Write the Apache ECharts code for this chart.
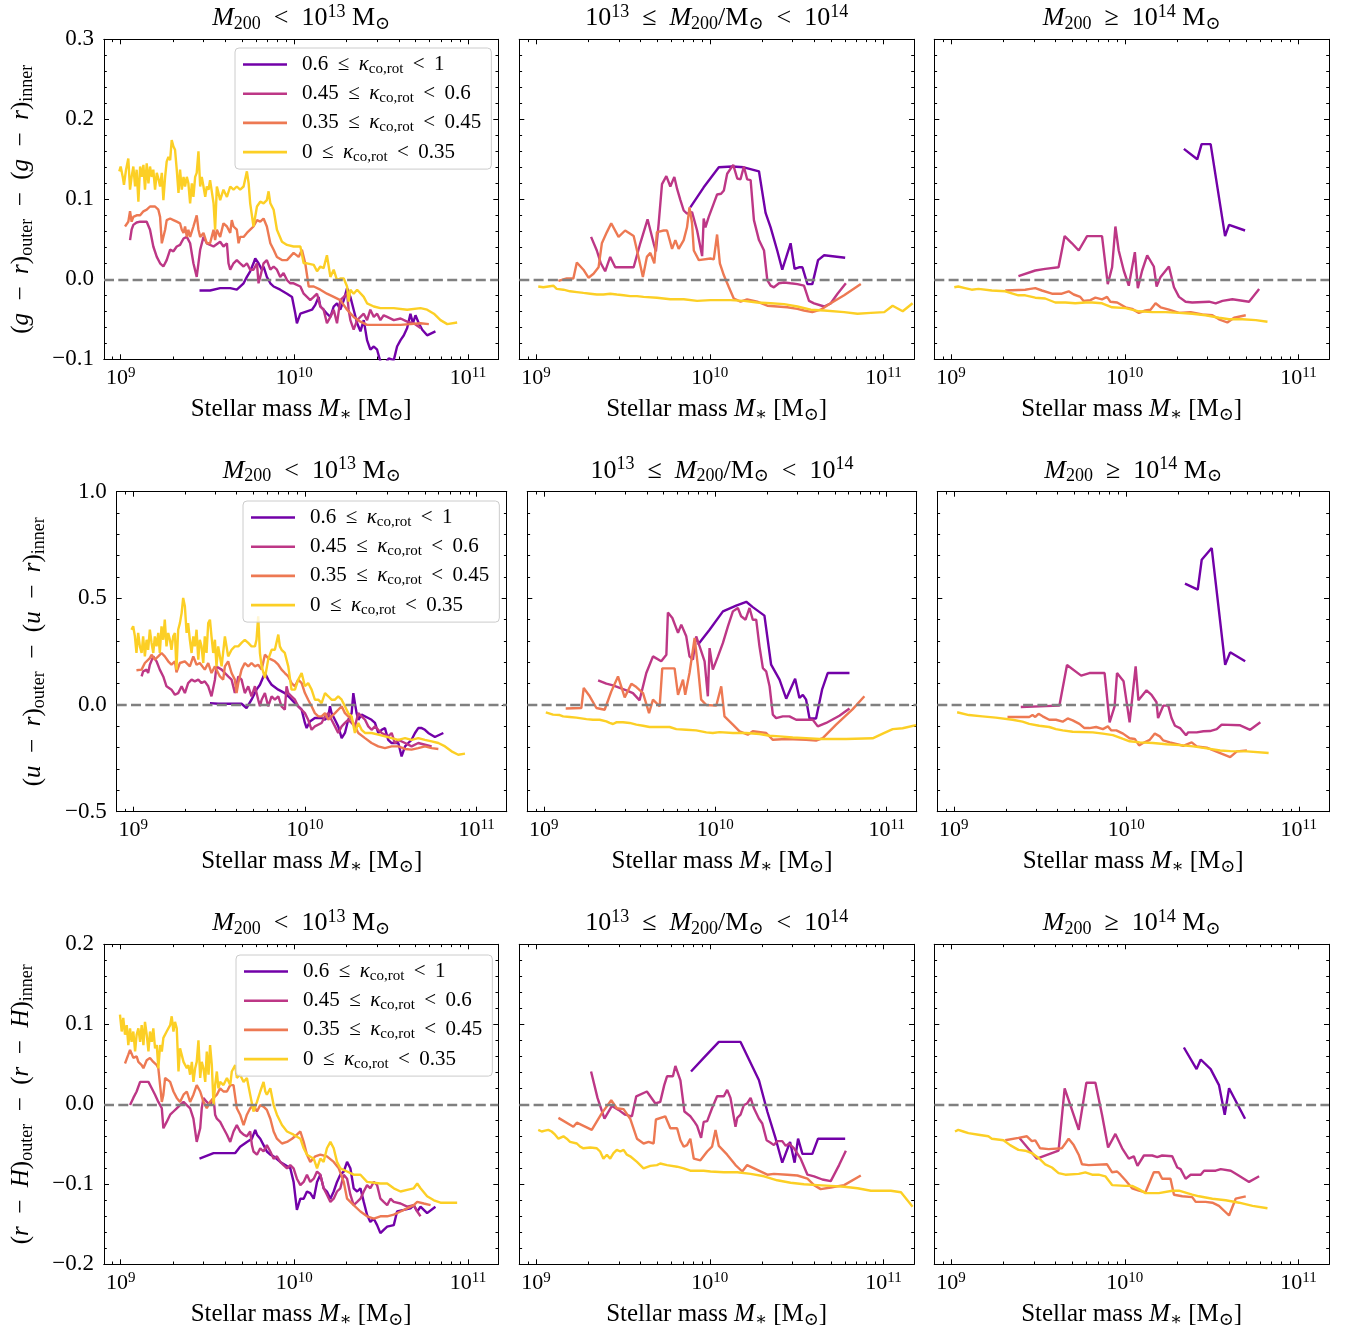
<!DOCTYPE html>
<html><head><meta charset="utf-8">
<script src="https://cdn.jsdelivr.net/npm/echarts@6/dist/echarts.min.js"></script>
<style>html,body{margin:0;padding:0;background:#fff}#c{width:1355px;height:1334px}</style>
</head><body><div id="c"></div><script>
// ---------- DATA: [log10(M*/Msun), colour-gradient difference] ----------
// Row 1: (g-r)
const gr_low_k60 = [[9.454,-0.014],[9.515,-0.014],[9.573,-0.011],[9.631,-0.011],[9.669,-0.013],[9.708,-0.005],[9.727,0.003],[9.746,0.010],[9.765,0.020],[9.775,0.026],[9.794,0.020],[9.813,0.012],[9.823,0.016],[9.842,0.003],[9.862,-0.005],[9.881,-0.009],[9.919,-0.013],[9.958,-0.018],[9.987,-0.022],[10.006,-0.043],[10.015,-0.055],[10.035,-0.043],[10.073,-0.040],[10.102,-0.038],[10.121,-0.032],[10.140,-0.022],[10.150,-0.034],[10.169,-0.038],[10.188,-0.043],[10.208,-0.047],[10.227,-0.034],[10.246,-0.030],[10.265,-0.038],[10.285,-0.026],[10.304,-0.011],[10.323,-0.022],[10.342,-0.038],[10.362,-0.055],[10.381,-0.065],[10.400,-0.051],[10.419,-0.076],[10.438,-0.088],[10.458,-0.084],[10.477,-0.088],[10.496,-0.103],[10.525,-0.105],[10.544,-0.099],[10.573,-0.101],[10.592,-0.084],[10.612,-0.076],[10.631,-0.070],[10.650,-0.061],[10.669,-0.043],[10.683,-0.055],[10.698,-0.045],[10.717,-0.055],[10.737,-0.063],[10.765,-0.070],[10.813,-0.065]];
const gr_low_k45 = [[9.054,0.049],[9.063,0.062],[9.073,0.068],[9.092,0.071],[9.112,0.072],[9.150,0.072],[9.169,0.062],[9.188,0.041],[9.208,0.028],[9.227,0.020],[9.246,0.016],[9.256,0.014],[9.265,0.024],[9.285,0.037],[9.304,0.035],[9.323,0.041],[9.342,0.043],[9.362,0.051],[9.381,0.053],[9.400,0.045],[9.419,0.020],[9.438,0.003],[9.458,0.037],[9.477,0.053],[9.496,0.045],[9.535,0.041],[9.573,0.047],[9.592,0.041],[9.612,0.045],[9.621,0.020],[9.631,0.012],[9.650,0.020],[9.669,0.024],[9.688,0.020],[9.708,0.016],[9.727,0.020],[9.746,0.012],[9.765,0.012],[9.785,0.020],[9.794,-0.005],[9.804,0.003],[9.823,0.020],[9.842,0.024],[9.862,0.012],[9.881,0.016],[9.900,0.012],[9.919,0.003],[9.938,0.008],[9.958,-0.001],[9.977,-0.005],[9.996,-0.005],[10.035,-0.009],[10.054,-0.018],[10.073,-0.022],[10.092,-0.026],[10.112,-0.022],[10.131,-0.018],[10.150,-0.034],[10.169,-0.038],[10.188,-0.055],[10.208,-0.047],[10.227,-0.038],[10.246,-0.055],[10.265,-0.026],[10.285,-0.022],[10.304,-0.018],[10.313,-0.038],[10.323,-0.051],[10.342,-0.063],[10.362,-0.051],[10.381,-0.047],[10.400,-0.043],[10.419,-0.051],[10.438,-0.038],[10.458,-0.047],[10.477,-0.043],[10.496,-0.051],[10.515,-0.045],[10.535,-0.047],[10.573,-0.051],[10.612,-0.049],[10.650,-0.053],[10.688,-0.055],[10.727,-0.061]];
const gr_low_k35 = [[9.025,0.066],[9.044,0.072],[9.054,0.085],[9.063,0.072],[9.073,0.078],[9.092,0.080],[9.112,0.080],[9.131,0.085],[9.150,0.087],[9.169,0.091],[9.198,0.091],[9.217,0.087],[9.227,0.078],[9.237,0.045],[9.246,0.043],[9.256,0.062],[9.265,0.074],[9.285,0.076],[9.304,0.074],[9.323,0.072],[9.342,0.070],[9.352,0.062],[9.362,0.058],[9.371,0.066],[9.381,0.053],[9.390,0.062],[9.400,0.053],[9.419,0.066],[9.438,0.080],[9.448,0.062],[9.458,0.053],[9.477,0.058],[9.496,0.045],[9.515,0.045],[9.535,0.062],[9.544,0.049],[9.554,0.062],[9.573,0.053],[9.592,0.070],[9.612,0.066],[9.631,0.058],[9.640,0.074],[9.650,0.066],[9.669,0.062],[9.679,0.045],[9.688,0.053],[9.708,0.053],[9.727,0.058],[9.746,0.062],[9.765,0.066],[9.785,0.074],[9.804,0.072],[9.823,0.076],[9.842,0.066],[9.862,0.045],[9.881,0.037],[9.900,0.028],[9.929,0.024],[9.958,0.024],[9.996,0.033],[10.025,0.028],[10.044,0.037],[10.063,0.020],[10.083,-0.009],[10.112,-0.009],[10.150,-0.013],[10.188,-0.018],[10.227,-0.022],[10.265,-0.026],[10.304,-0.038],[10.342,-0.047],[10.381,-0.053],[10.419,-0.057],[10.496,-0.057],[10.612,-0.057],[10.727,-0.055],[10.775,-0.056]];
const gr_low_k0 = [[8.992,0.135],[9.000,0.141],[9.012,0.128],[9.019,0.118],[9.031,0.137],[9.044,0.151],[9.054,0.112],[9.063,0.128],[9.073,0.141],[9.083,0.116],[9.092,0.137],[9.102,0.097],[9.112,0.141],[9.121,0.128],[9.131,0.143],[9.140,0.112],[9.150,0.145],[9.160,0.120],[9.169,0.141],[9.179,0.128],[9.188,0.137],[9.198,0.112],[9.208,0.133],[9.217,0.126],[9.227,0.116],[9.237,0.133],[9.246,0.099],[9.256,0.128],[9.265,0.147],[9.275,0.153],[9.285,0.149],[9.294,0.174],[9.304,0.166],[9.313,0.162],[9.323,0.137],[9.333,0.108],[9.342,0.137],[9.352,0.112],[9.362,0.128],[9.371,0.116],[9.381,0.128],[9.390,0.120],[9.400,0.095],[9.410,0.120],[9.419,0.103],[9.429,0.128],[9.438,0.133],[9.448,0.160],[9.458,0.116],[9.467,0.128],[9.477,0.116],[9.487,0.103],[9.496,0.116],[9.506,0.112],[9.515,0.124],[9.535,0.095],[9.544,0.062],[9.554,0.116],[9.563,0.108],[9.573,0.099],[9.592,0.112],[9.612,0.103],[9.631,0.116],[9.650,0.112],[9.669,0.116],[9.688,0.112],[9.708,0.116],[9.727,0.135],[9.737,0.120],[9.746,0.095],[9.765,0.066],[9.785,0.091],[9.804,0.097],[9.823,0.095],[9.842,0.099],[9.852,0.110],[9.862,0.095],[9.881,0.087],[9.900,0.062],[9.929,0.047],[9.958,0.043],[9.996,0.041],[10.035,0.041],[10.054,0.020],[10.073,0.020],[10.112,0.018],[10.131,0.010],[10.150,0.016],[10.169,0.014],[10.188,0.030],[10.208,0.003],[10.227,0.012],[10.246,-0.001],[10.265,0.001],[10.285,0.001],[10.304,-0.009],[10.313,-0.028],[10.323,-0.013],[10.342,-0.018],[10.362,-0.013],[10.400,-0.022],[10.419,-0.030],[10.458,-0.034],[10.496,-0.036],[10.573,-0.036],[10.650,-0.038],[10.727,-0.036],[10.765,-0.038],[10.804,-0.043],[10.842,-0.051],[10.881,-0.056],[10.938,-0.054]];
const gr_mid_k60 = [[9.888,0.090],[9.965,0.115],[10.052,0.140],[10.129,0.141],[10.196,0.140],[10.283,0.135],[10.321,0.083],[10.350,0.065],[10.388,0.036],[10.417,0.012],[10.465,0.045],[10.488,0.013],[10.513,0.015],[10.533,0.015],[10.562,-0.006],[10.590,-0.006],[10.623,0.024],[10.658,0.030],[10.779,0.027]];
const gr_mid_k45 = [[9.317,0.053],[9.350,0.036],[9.373,0.020],[9.398,0.010],[9.427,0.028],[9.456,0.015],[9.504,0.015],[9.562,0.015],[9.600,0.045],[9.642,0.075],[9.677,0.045],[9.690,0.035],[9.706,0.070],[9.725,0.119],[9.750,0.129],[9.773,0.116],[9.796,0.128],[9.812,0.113],[9.831,0.099],[9.850,0.086],[9.869,0.082],[9.898,0.084],[9.927,0.061],[9.956,0.029],[9.965,0.076],[9.975,0.065],[9.994,0.078],[10.023,0.095],[10.042,0.106],[10.065,0.107],[10.081,0.111],[10.100,0.132],[10.135,0.143],[10.158,0.126],[10.177,0.125],[10.196,0.141],[10.215,0.125],[10.235,0.124],[10.254,0.074],[10.283,0.049],[10.312,0.036],[10.331,-0.001],[10.350,-0.008],[10.369,-0.010],[10.398,-0.005],[10.427,-0.004],[10.465,-0.005],[10.504,-0.006],[10.542,-0.008],[10.571,-0.027],[10.600,-0.030],[10.658,-0.034],[10.696,-0.030],[10.735,-0.018],[10.783,-0.005]];
const gr_mid_k35 = [[9.129,-0.002],[9.177,0.001],[9.215,0.001],[9.235,0.021],[9.273,0.012],[9.302,0.002],[9.331,0.007],[9.360,0.015],[9.379,0.045],[9.408,0.059],[9.433,0.070],[9.475,0.053],[9.513,0.061],[9.562,0.054],[9.590,0.028],[9.615,0.003],[9.638,0.028],[9.658,0.033],[9.681,0.020],[9.696,0.059],[9.735,0.061],[9.754,0.061],[9.783,0.038],[9.802,0.049],[9.821,0.038],[9.850,0.049],[9.869,0.065],[9.883,0.090],[9.898,0.070],[9.908,0.036],[9.937,0.024],[10.004,0.026],[10.023,0.025],[10.042,0.056],[10.058,0.020],[10.081,0.005],[10.110,-0.010],[10.138,-0.024],[10.177,-0.028],[10.215,-0.025],[10.273,-0.028],[10.331,-0.033],[10.388,-0.034],[10.446,-0.035],[10.504,-0.037],[10.542,-0.039],[10.590,-0.041],[10.638,-0.038],[10.696,-0.030],[10.773,-0.020],[10.869,-0.006]];
const gr_mid_k0 = [[9.013,-0.009],[9.042,-0.010],[9.071,-0.009],[9.100,-0.008],[9.119,-0.012],[9.158,-0.013],[9.196,-0.015],[9.235,-0.016],[9.273,-0.017],[9.312,-0.018],[9.350,-0.019],[9.388,-0.019],[9.427,-0.018],[9.465,-0.019],[9.504,-0.020],[9.542,-0.021],[9.581,-0.021],[9.619,-0.022],[9.696,-0.023],[9.773,-0.025],[9.850,-0.025],[9.927,-0.027],[10.004,-0.026],[10.119,-0.026],[10.196,-0.027],[10.273,-0.029],[10.350,-0.030],[10.427,-0.031],[10.504,-0.034],[10.581,-0.038],[10.658,-0.039],[10.773,-0.041],[10.850,-0.043],[10.927,-0.042],[11.004,-0.041],[11.052,-0.033],[11.110,-0.040],[11.167,-0.030]];
const gr_high_k60 = [[10.340,0.163],[10.417,0.150],[10.442,0.169],[10.494,0.169],[10.577,0.054],[10.600,0.068],[10.692,0.061]];
const gr_high_k45 = [[9.388,0.004],[9.485,0.011],[9.542,0.013],[9.619,0.015],[9.654,0.054],[9.696,0.045],[9.735,0.036],[9.783,0.054],[9.869,0.054],[9.902,-0.006],[9.927,0.015],[9.946,0.066],[9.965,0.036],[9.994,0.011],[10.023,-0.008],[10.058,0.034],[10.075,-0.011],[10.100,0.011],[10.129,0.030],[10.167,0.016],[10.183,-0.009],[10.206,0.003],[10.254,0.016],[10.283,-0.010],[10.312,-0.022],[10.350,-0.028],[10.388,-0.029],[10.485,-0.028],[10.523,-0.030],[10.562,-0.027],[10.619,-0.025],[10.715,-0.028],[10.773,-0.012]];
const gr_high_k35 = [[9.312,-0.014],[9.427,-0.013],[9.456,-0.012],[9.485,-0.011],[9.523,-0.014],[9.581,-0.018],[9.638,-0.018],[9.677,-0.015],[9.706,-0.019],[9.744,-0.022],[9.763,-0.027],[9.802,-0.026],[9.831,-0.023],[9.869,-0.025],[9.898,-0.022],[9.917,-0.028],[9.956,-0.029],[10.004,-0.035],[10.042,-0.037],[10.081,-0.042],[10.119,-0.039],[10.148,-0.038],[10.177,-0.030],[10.206,-0.035],[10.254,-0.038],[10.312,-0.042],[10.379,-0.041],[10.446,-0.044],[10.504,-0.045],[10.542,-0.050],[10.590,-0.054],[10.629,-0.048],[10.696,-0.045]];
const gr_high_k0 = [[9.019,-0.010],[9.042,-0.009],[9.081,-0.011],[9.119,-0.013],[9.158,-0.012],[9.235,-0.014],[9.312,-0.015],[9.388,-0.020],[9.427,-0.020],[9.485,-0.023],[9.542,-0.024],[9.600,-0.029],[9.658,-0.029],[9.715,-0.030],[9.773,-0.029],[9.812,-0.029],[9.869,-0.030],[9.927,-0.035],[10.004,-0.036],[10.081,-0.040],[10.158,-0.041],[10.235,-0.041],[10.312,-0.042],[10.388,-0.043],[10.465,-0.045],[10.542,-0.048],[10.600,-0.050],[10.677,-0.050],[10.754,-0.051],[10.821,-0.053]];
// Row 2: (u-r)
const ur_low_k60 = [[9.447,0.009],[9.495,0.006],[9.553,0.006],[9.631,0.006],[9.660,-0.014],[9.689,0.025],[9.718,0.072],[9.738,0.095],[9.767,0.150],[9.786,0.119],[9.806,0.095],[9.845,0.072],[9.883,0.056],[9.913,0.033],[9.942,0.009],[9.981,-0.022],[10.000,-0.084],[10.010,-0.108],[10.029,-0.077],[10.058,-0.061],[10.097,-0.061],[10.117,-0.069],[10.136,-0.053],[10.146,-0.006],[10.155,-0.038],[10.175,-0.069],[10.194,-0.100],[10.214,-0.155],[10.233,-0.131],[10.252,-0.069],[10.272,-0.038],[10.282,0.056],[10.291,0.009],[10.301,-0.038],[10.311,-0.069],[10.330,-0.045],[10.369,-0.061],[10.388,-0.069],[10.408,-0.084],[10.427,-0.131],[10.447,-0.116],[10.466,-0.108],[10.485,-0.163],[10.505,-0.178],[10.544,-0.178],[10.563,-0.241],[10.583,-0.194],[10.602,-0.178],[10.621,-0.163],[10.641,-0.131],[10.660,-0.108],[10.680,-0.108],[10.699,-0.116],[10.718,-0.131],[10.757,-0.150],[10.806,-0.131]];
const ur_low_k45 = [[9.049,0.134],[9.058,0.158],[9.078,0.166],[9.087,0.150],[9.097,0.189],[9.117,0.228],[9.136,0.205],[9.155,0.166],[9.175,0.134],[9.194,0.088],[9.223,0.072],[9.243,0.048],[9.262,0.056],[9.282,0.088],[9.301,0.056],[9.320,0.103],[9.340,0.119],[9.359,0.111],[9.379,0.119],[9.398,0.103],[9.417,0.111],[9.437,0.088],[9.456,0.041],[9.476,0.119],[9.485,0.181],[9.495,0.189],[9.515,0.166],[9.534,0.150],[9.553,0.134],[9.573,0.119],[9.592,0.056],[9.612,0.134],[9.631,0.119],[9.650,0.056],[9.670,0.088],[9.689,0.041],[9.709,0.088],[9.728,0.025],[9.738,-0.006],[9.748,0.025],[9.767,0.056],[9.786,-0.006],[9.806,0.041],[9.825,0.025],[9.845,0.041],[9.864,-0.006],[9.883,-0.022],[9.893,0.088],[9.903,0.056],[9.922,0.041],[9.942,0.025],[9.961,-0.006],[9.981,-0.022],[10.000,-0.038],[10.019,-0.069],[10.039,-0.116],[10.058,-0.100],[10.097,-0.084],[10.117,-0.053],[10.136,-0.038],[10.155,-0.069],[10.175,-0.100],[10.194,-0.131],[10.214,-0.100],[10.233,-0.084],[10.252,-0.069],[10.272,-0.084],[10.291,-0.100],[10.311,-0.038],[10.330,-0.053],[10.350,-0.069],[10.369,-0.100],[10.388,-0.116],[10.408,-0.100],[10.427,-0.116],[10.447,-0.131],[10.485,-0.147],[10.505,-0.131],[10.524,-0.178],[10.544,-0.163],[10.583,-0.178],[10.621,-0.194],[10.660,-0.178],[10.699,-0.186],[10.738,-0.194]];
const ur_low_k35 = [[9.019,0.163],[9.049,0.166],[9.068,0.197],[9.097,0.220],[9.107,0.236],[9.126,0.213],[9.146,0.228],[9.165,0.244],[9.184,0.228],[9.204,0.205],[9.223,0.189],[9.243,0.205],[9.252,0.153],[9.272,0.197],[9.301,0.205],[9.330,0.181],[9.350,0.228],[9.369,0.189],[9.388,0.197],[9.417,0.166],[9.437,0.197],[9.456,0.150],[9.476,0.181],[9.505,0.134],[9.524,0.119],[9.534,0.181],[9.553,0.205],[9.573,0.150],[9.592,0.119],[9.602,0.056],[9.612,0.103],[9.631,0.166],[9.650,0.197],[9.670,0.181],[9.689,0.197],[9.709,0.181],[9.728,0.189],[9.748,0.166],[9.767,0.236],[9.786,0.220],[9.806,0.213],[9.825,0.205],[9.845,0.189],[9.864,0.166],[9.883,0.150],[9.903,0.134],[9.922,0.103],[9.942,0.088],[9.961,0.119],[9.981,0.103],[10.000,0.056],[10.019,0.025],[10.039,-0.006],[10.058,-0.038],[10.078,-0.053],[10.097,-0.053],[10.117,-0.038],[10.136,-0.069],[10.155,-0.053],[10.175,-0.038],[10.194,-0.022],[10.214,-0.006],[10.233,-0.038],[10.252,-0.053],[10.272,-0.069],[10.291,-0.100],[10.311,-0.131],[10.350,-0.155],[10.388,-0.178],[10.427,-0.194],[10.466,-0.202],[10.505,-0.194],[10.544,-0.194],[10.583,-0.206],[10.621,-0.209],[10.660,-0.202],[10.699,-0.194],[10.738,-0.202],[10.777,-0.206]];
const ur_low_k0 = [[8.990,0.353],[9.000,0.369],[9.010,0.322],[9.019,0.244],[9.029,0.338],[9.039,0.275],[9.049,0.244],[9.058,0.322],[9.068,0.228],[9.078,0.306],[9.087,0.259],[9.097,0.353],[9.107,0.291],[9.117,0.244],[9.126,0.322],[9.136,0.275],[9.146,0.338],[9.155,0.244],[9.165,0.369],[9.175,0.306],[9.184,0.400],[9.194,0.275],[9.204,0.338],[9.214,0.306],[9.223,0.259],[9.233,0.322],[9.243,0.338],[9.252,0.166],[9.262,0.353],[9.272,0.384],[9.282,0.431],[9.291,0.502],[9.301,0.463],[9.311,0.338],[9.320,0.384],[9.330,0.306],[9.340,0.244],[9.350,0.322],[9.359,0.275],[9.369,0.353],[9.379,0.213],[9.388,0.306],[9.398,0.275],[9.408,0.197],[9.417,0.322],[9.427,0.244],[9.437,0.384],[9.447,0.400],[9.456,0.322],[9.466,0.244],[9.476,0.306],[9.485,0.181],[9.495,0.275],[9.515,0.181],[9.534,0.322],[9.553,0.228],[9.573,0.259],[9.592,0.275],[9.612,0.275],[9.631,0.291],[9.650,0.306],[9.670,0.291],[9.689,0.275],[9.709,0.275],[9.718,0.306],[9.728,0.416],[9.738,0.244],[9.748,0.181],[9.767,0.127],[9.786,0.213],[9.806,0.259],[9.825,0.259],[9.845,0.330],[9.854,0.275],[9.864,0.259],[9.883,0.244],[9.903,0.181],[9.922,0.072],[9.942,0.072],[9.961,0.119],[9.981,0.150],[10.000,0.088],[10.019,0.103],[10.039,0.072],[10.058,0.025],[10.078,0.025],[10.097,0.009],[10.117,0.056],[10.136,0.041],[10.155,0.025],[10.175,0.025],[10.194,0.041],[10.214,0.025],[10.233,-0.006],[10.252,-0.038],[10.272,-0.053],[10.291,-0.131],[10.311,-0.084],[10.330,-0.116],[10.350,-0.131],[10.388,-0.131],[10.427,-0.139],[10.466,-0.147],[10.505,-0.155],[10.544,-0.163],[10.583,-0.155],[10.621,-0.163],[10.660,-0.155],[10.699,-0.163],[10.738,-0.170],[10.777,-0.178],[10.816,-0.194],[10.854,-0.217],[10.893,-0.233],[10.932,-0.228]];
const ur_mid_k60 = [[9.899,0.283],[9.967,0.353],[10.045,0.439],[10.122,0.466],[10.181,0.484],[10.219,0.459],[10.287,0.419],[10.326,0.189],[10.375,0.119],[10.414,0.030],[10.466,0.123],[10.491,0.033],[10.511,0.048],[10.530,0.025],[10.550,-0.063],[10.588,-0.063],[10.623,0.072],[10.656,0.150],[10.783,0.150]];
const ur_mid_k45 = [[9.317,0.116],[9.365,0.100],[9.404,0.092],[9.443,0.080],[9.482,0.069],[9.520,0.056],[9.559,0.022],[9.569,0.056],[9.598,0.150],[9.637,0.228],[9.685,0.205],[9.715,0.236],[9.724,0.434],[9.750,0.408],[9.783,0.338],[9.802,0.377],[9.831,0.322],[9.850,0.228],[9.870,0.213],[9.889,0.322],[9.909,0.275],[9.938,0.205],[9.957,0.041],[9.967,0.267],[9.986,0.166],[10.016,0.228],[10.045,0.291],[10.074,0.369],[10.103,0.439],[10.132,0.455],[10.151,0.416],[10.177,0.400],[10.200,0.455],[10.219,0.400],[10.239,0.400],[10.258,0.275],[10.278,0.173],[10.297,0.158],[10.317,0.088],[10.336,-0.045],[10.355,-0.061],[10.394,-0.053],[10.433,-0.053],[10.472,-0.069],[10.530,-0.069],[10.569,-0.069],[10.598,-0.100],[10.647,-0.084],[10.724,-0.050],[10.783,-0.016]];
const ur_mid_k35 = [[9.128,-0.016],[9.219,-0.014],[9.233,0.080],[9.268,0.041],[9.307,-0.014],[9.355,-0.022],[9.394,0.064],[9.433,0.134],[9.472,0.036],[9.511,0.100],[9.540,0.084],[9.579,0.056],[9.614,-0.038],[9.637,0.025],[9.676,-0.006],[9.691,0.172],[9.763,0.172],[9.783,0.048],[9.812,0.119],[9.825,0.048],[9.850,0.150],[9.880,0.314],[9.899,0.181],[9.918,0.025],[9.948,0.000],[10.006,-0.003],[10.035,0.088],[10.054,-0.053],[10.103,-0.092],[10.142,-0.123],[10.190,-0.139],[10.219,-0.123],[10.297,-0.131],[10.336,-0.163],[10.414,-0.159],[10.530,-0.163],[10.588,-0.167],[10.627,-0.155],[10.705,-0.092],[10.802,-0.019],[10.870,0.041]];
const ur_mid_k0 = [[9.012,-0.034],[9.054,-0.045],[9.093,-0.047],[9.113,-0.053],[9.151,-0.056],[9.190,-0.059],[9.249,-0.066],[9.287,-0.069],[9.326,-0.069],[9.365,-0.077],[9.384,-0.084],[9.404,-0.089],[9.423,-0.081],[9.462,-0.081],[9.501,-0.084],[9.540,-0.092],[9.579,-0.097],[9.617,-0.103],[9.734,-0.103],[9.773,-0.113],[9.831,-0.116],[9.889,-0.119],[9.948,-0.128],[9.986,-0.131],[10.025,-0.127],[10.103,-0.131],[10.181,-0.131],[10.258,-0.136],[10.317,-0.144],[10.375,-0.147],[10.452,-0.152],[10.530,-0.155],[10.608,-0.159],[10.763,-0.159],[10.918,-0.156],[10.977,-0.134],[11.035,-0.113],[11.093,-0.109],[11.171,-0.094]];
const ur_high_k60 = [[10.340,0.569],[10.414,0.541],[10.437,0.681],[10.495,0.736],[10.573,0.188],[10.602,0.247],[10.689,0.205]];
const ur_high_k45 = [[9.388,-0.009],[9.534,-0.005],[9.612,-0.002],[9.656,0.188],[9.738,0.138],[9.786,0.150],[9.874,0.150],[9.903,-0.081],[9.932,-0.006],[9.946,0.150],[9.984,0.111],[10.019,-0.081],[10.054,0.181],[10.070,0.022],[10.117,0.069],[10.146,0.048],[10.175,0.013],[10.184,-0.061],[10.214,-0.003],[10.243,-0.003],[10.262,-0.061],[10.282,-0.097],[10.311,-0.108],[10.346,-0.142],[10.359,-0.128],[10.408,-0.128],[10.447,-0.123],[10.485,-0.122],[10.524,-0.113],[10.553,-0.092],[10.660,-0.095],[10.718,-0.116],[10.777,-0.081]];
const ur_high_k35 = [[9.311,-0.056],[9.437,-0.056],[9.456,-0.047],[9.472,-0.056],[9.491,-0.041],[9.515,-0.053],[9.553,-0.069],[9.592,-0.069],[9.631,-0.078],[9.660,-0.063],[9.689,-0.072],[9.728,-0.088],[9.757,-0.108],[9.786,-0.108],[9.825,-0.103],[9.864,-0.113],[9.893,-0.100],[9.913,-0.119],[9.942,-0.119],[9.981,-0.134],[10.019,-0.156],[10.049,-0.159],[10.074,-0.189],[10.097,-0.178],[10.136,-0.163],[10.165,-0.134],[10.194,-0.147],[10.214,-0.166],[10.252,-0.175],[10.330,-0.191],[10.379,-0.175],[10.408,-0.194],[10.466,-0.200],[10.505,-0.213],[10.544,-0.225],[10.602,-0.244],[10.641,-0.217],[10.699,-0.213]];
const ur_high_k0 = [[9.019,-0.034],[9.087,-0.047],[9.165,-0.053],[9.243,-0.059],[9.340,-0.069],[9.398,-0.078],[9.437,-0.088],[9.495,-0.097],[9.553,-0.103],[9.592,-0.113],[9.631,-0.119],[9.689,-0.125],[9.806,-0.128],[9.864,-0.134],[9.922,-0.141],[9.981,-0.159],[10.019,-0.170],[10.078,-0.175],[10.155,-0.178],[10.233,-0.184],[10.311,-0.188],[10.388,-0.194],[10.466,-0.203],[10.544,-0.213],[10.602,-0.216],[10.699,-0.217],[10.825,-0.225]];
// Row 3: (r-H)
const rH_low_k60 = [[9.454,-0.068],[9.535,-0.061],[9.592,-0.061],[9.660,-0.061],[9.688,-0.053],[9.727,-0.047],[9.756,-0.043],[9.775,-0.032],[9.785,-0.038],[9.804,-0.043],[9.823,-0.051],[9.842,-0.059],[9.862,-0.063],[9.881,-0.065],[9.919,-0.072],[9.948,-0.076],[9.977,-0.080],[9.996,-0.097],[10.015,-0.132],[10.035,-0.118],[10.054,-0.118],[10.073,-0.109],[10.092,-0.111],[10.112,-0.118],[10.131,-0.097],[10.150,-0.088],[10.169,-0.105],[10.188,-0.109],[10.208,-0.118],[10.227,-0.109],[10.246,-0.097],[10.265,-0.088],[10.285,-0.084],[10.304,-0.072],[10.323,-0.080],[10.342,-0.105],[10.362,-0.109],[10.381,-0.105],[10.400,-0.122],[10.419,-0.138],[10.438,-0.147],[10.458,-0.143],[10.477,-0.151],[10.496,-0.161],[10.515,-0.157],[10.535,-0.153],[10.573,-0.151],[10.592,-0.134],[10.631,-0.132],[10.669,-0.130],[10.688,-0.126],[10.708,-0.134],[10.727,-0.128],[10.765,-0.136],[10.813,-0.128]];
const rH_low_k45 = [[9.054,-0.001],[9.073,0.008],[9.092,0.016],[9.112,0.028],[9.140,0.028],[9.160,0.028],[9.179,0.020],[9.198,0.012],[9.217,0.003],[9.237,-0.005],[9.246,-0.030],[9.265,-0.022],[9.285,-0.013],[9.304,-0.009],[9.323,-0.005],[9.342,-0.001],[9.362,0.003],[9.381,-0.001],[9.400,-0.005],[9.419,-0.018],[9.438,-0.047],[9.458,-0.030],[9.467,-0.005],[9.477,0.008],[9.496,0.003],[9.515,-0.001],[9.535,0.008],[9.544,-0.013],[9.554,-0.018],[9.573,-0.022],[9.592,-0.030],[9.612,-0.038],[9.631,-0.047],[9.650,-0.034],[9.669,-0.026],[9.688,-0.034],[9.708,-0.038],[9.727,-0.040],[9.746,-0.034],[9.756,-0.051],[9.765,-0.059],[9.785,-0.063],[9.804,-0.055],[9.823,-0.059],[9.842,-0.051],[9.862,-0.059],[9.881,-0.068],[9.900,-0.065],[9.919,-0.072],[9.938,-0.076],[9.958,-0.080],[9.977,-0.076],[9.996,-0.080],[10.015,-0.093],[10.035,-0.101],[10.054,-0.097],[10.073,-0.088],[10.092,-0.097],[10.112,-0.093],[10.131,-0.084],[10.150,-0.088],[10.169,-0.105],[10.188,-0.113],[10.208,-0.122],[10.227,-0.118],[10.246,-0.109],[10.265,-0.105],[10.285,-0.088],[10.304,-0.093],[10.323,-0.113],[10.342,-0.126],[10.362,-0.122],[10.381,-0.118],[10.400,-0.109],[10.419,-0.101],[10.438,-0.105],[10.458,-0.097],[10.477,-0.101],[10.496,-0.118],[10.515,-0.122],[10.535,-0.126],[10.554,-0.118],[10.573,-0.122],[10.612,-0.124],[10.650,-0.128],[10.688,-0.126],[10.708,-0.134],[10.727,-0.140]];
const rH_low_k35 = [[9.025,0.051],[9.044,0.062],[9.054,0.068],[9.063,0.070],[9.073,0.058],[9.092,0.060],[9.102,0.053],[9.121,0.049],[9.131,0.045],[9.150,0.055],[9.169,0.058],[9.188,0.053],[9.208,0.049],[9.217,0.045],[9.227,0.024],[9.237,0.003],[9.246,0.012],[9.256,0.033],[9.265,0.035],[9.285,0.028],[9.304,0.016],[9.323,0.008],[9.342,0.003],[9.362,0.012],[9.381,0.016],[9.400,0.003],[9.419,0.012],[9.438,0.024],[9.458,0.016],[9.477,0.003],[9.496,-0.005],[9.515,0.003],[9.535,0.008],[9.554,0.012],[9.573,0.020],[9.592,0.016],[9.612,0.016],[9.631,0.024],[9.650,0.024],[9.669,-0.005],[9.688,-0.013],[9.708,-0.026],[9.727,-0.013],[9.746,-0.005],[9.765,-0.001],[9.785,-0.009],[9.804,-0.001],[9.823,-0.003],[9.842,-0.007],[9.862,-0.018],[9.881,-0.034],[9.900,-0.043],[9.929,-0.049],[9.958,-0.047],[9.987,-0.043],[10.015,-0.038],[10.035,-0.034],[10.054,-0.047],[10.073,-0.063],[10.092,-0.072],[10.121,-0.065],[10.150,-0.063],[10.188,-0.065],[10.227,-0.072],[10.256,-0.080],[10.285,-0.097],[10.304,-0.118],[10.342,-0.126],[10.381,-0.134],[10.419,-0.140],[10.458,-0.143],[10.496,-0.140],[10.535,-0.140],[10.573,-0.138],[10.612,-0.134],[10.650,-0.130],[10.688,-0.126],[10.708,-0.122],[10.746,-0.124],[10.785,-0.126]];
const rH_low_k0 = [[8.996,0.112],[9.006,0.091],[9.015,0.108],[9.025,0.087],[9.035,0.099],[9.044,0.074],[9.054,0.095],[9.063,0.078],[9.073,0.091],[9.083,0.066],[9.092,0.087],[9.102,0.095],[9.112,0.078],[9.121,0.099],[9.131,0.074],[9.140,0.103],[9.150,0.087],[9.160,0.066],[9.169,0.091],[9.179,0.078],[9.188,0.095],[9.198,0.070],[9.208,0.074],[9.217,0.045],[9.227,0.074],[9.237,0.066],[9.246,0.083],[9.265,0.091],[9.285,0.099],[9.294,0.110],[9.304,0.091],[9.313,0.103],[9.323,0.095],[9.333,0.041],[9.342,0.070],[9.362,0.053],[9.381,0.045],[9.390,0.049],[9.400,0.037],[9.410,0.053],[9.419,0.028],[9.429,0.045],[9.438,0.053],[9.448,0.080],[9.458,0.033],[9.467,0.053],[9.477,0.045],[9.487,0.028],[9.496,0.066],[9.506,0.037],[9.515,0.074],[9.525,0.049],[9.535,-0.001],[9.544,0.024],[9.554,0.041],[9.563,0.020],[9.573,0.028],[9.592,0.024],[9.612,0.033],[9.631,0.024],[9.640,0.041],[9.660,0.049],[9.669,0.033],[9.688,0.037],[9.708,0.028],[9.727,0.033],[9.746,0.012],[9.765,-0.009],[9.785,0.003],[9.804,0.016],[9.823,0.028],[9.833,0.016],[9.842,0.012],[9.862,0.020],[9.881,-0.001],[9.900,-0.013],[9.929,-0.026],[9.958,-0.034],[9.996,-0.038],[10.035,-0.043],[10.054,-0.055],[10.073,-0.063],[10.112,-0.068],[10.131,-0.080],[10.150,-0.068],[10.169,-0.072],[10.188,-0.055],[10.208,-0.047],[10.227,-0.055],[10.246,-0.072],[10.265,-0.080],[10.304,-0.084],[10.342,-0.088],[10.381,-0.088],[10.419,-0.097],[10.496,-0.099],[10.535,-0.099],[10.573,-0.105],[10.612,-0.109],[10.650,-0.107],[10.688,-0.105],[10.708,-0.099],[10.727,-0.105],[10.765,-0.115],[10.804,-0.120],[10.842,-0.123],[10.938,-0.123]];
const rH_mid_k60 = [[9.892,0.041],[9.965,0.058],[10.052,0.078],[10.177,0.078],[10.283,0.030],[10.331,-0.009],[10.379,-0.043],[10.417,-0.073],[10.462,-0.047],[10.488,-0.073],[10.508,-0.043],[10.533,-0.062],[10.590,-0.062],[10.623,-0.043],[10.779,-0.043]];
const rH_mid_k45 = [[9.317,0.041],[9.354,0.008],[9.394,-0.018],[9.437,-0.002],[9.475,-0.007],[9.513,-0.013],[9.552,-0.015],[9.577,0.010],[9.638,0.016],[9.687,0.001],[9.715,0.003],[9.738,0.024],[9.754,0.035],[9.788,0.035],[9.802,0.048],[9.831,0.030],[9.854,-0.009],[9.888,-0.015],[9.912,-0.022],[9.927,-0.027],[9.950,-0.042],[9.965,-0.022],[9.985,-0.021],[10.013,-0.005],[10.042,0.010],[10.081,0.010],[10.100,0.018],[10.119,0.008],[10.148,-0.028],[10.158,-0.017],[10.177,-0.013],[10.196,-0.001],[10.215,0.001],[10.235,0.008],[10.254,-0.005],[10.283,-0.018],[10.302,-0.024],[10.327,-0.045],[10.350,-0.048],[10.369,-0.051],[10.388,-0.046],[10.417,-0.046],[10.437,-0.052],[10.456,-0.049],[10.485,-0.055],[10.523,-0.068],[10.562,-0.088],[10.600,-0.090],[10.648,-0.094],[10.696,-0.096],[10.744,-0.076],[10.783,-0.058]];
const rH_mid_k35 = [[9.129,-0.017],[9.215,-0.028],[9.235,-0.023],[9.321,-0.032],[9.379,-0.011],[9.433,0.005],[9.465,-0.005],[9.504,-0.006],[9.542,-0.018],[9.581,-0.043],[9.619,-0.049],[9.648,-0.047],[9.677,-0.049],[9.690,-0.019],[9.744,-0.015],[9.773,-0.030],[9.812,-0.030],[9.831,-0.045],[9.850,-0.053],[9.869,-0.051],[9.888,-0.043],[9.908,-0.068],[9.946,-0.070],[9.985,-0.059],[10.013,-0.053],[10.033,-0.032],[10.052,-0.052],[10.100,-0.063],[10.148,-0.076],[10.187,-0.084],[10.215,-0.076],[10.273,-0.082],[10.331,-0.088],[10.369,-0.087],[10.446,-0.088],[10.504,-0.089],[10.562,-0.093],[10.600,-0.101],[10.638,-0.106],[10.696,-0.104],[10.773,-0.101],[10.869,-0.089]];
const rH_mid_k0 = [[9.013,-0.032],[9.033,-0.034],[9.052,-0.033],[9.071,-0.032],[9.090,-0.034],[9.110,-0.038],[9.129,-0.043],[9.158,-0.040],[9.177,-0.043],[9.196,-0.047],[9.235,-0.049],[9.254,-0.053],[9.273,-0.055],[9.312,-0.054],[9.350,-0.055],[9.369,-0.059],[9.388,-0.068],[9.408,-0.063],[9.427,-0.068],[9.446,-0.061],[9.465,-0.057],[9.485,-0.059],[9.504,-0.057],[9.523,-0.063],[9.542,-0.065],[9.581,-0.072],[9.619,-0.080],[9.658,-0.077],[9.696,-0.076],[9.715,-0.074],[9.754,-0.076],[9.812,-0.078],[9.850,-0.080],[9.888,-0.083],[9.965,-0.083],[10.004,-0.084],[10.081,-0.085],[10.158,-0.085],[10.235,-0.087],[10.312,-0.090],[10.388,-0.095],[10.465,-0.098],[10.542,-0.100],[10.619,-0.101],[10.696,-0.102],[10.773,-0.103],[10.850,-0.105],[10.927,-0.108],[11.042,-0.108],[11.100,-0.110],[11.167,-0.128]];
const rH_high_k60 = [[10.340,0.071],[10.413,0.044],[10.437,0.056],[10.494,0.044],[10.542,0.024],[10.575,-0.013],[10.600,0.020],[10.692,-0.018]];
const rH_high_k45 = [[9.394,-0.042],[9.494,-0.068],[9.619,-0.058],[9.654,0.020],[9.735,-0.032],[9.779,0.027],[9.831,0.027],[9.869,-0.013],[9.904,-0.054],[9.946,-0.037],[9.985,-0.055],[10.023,-0.068],[10.052,-0.065],[10.073,-0.077],[10.110,-0.064],[10.158,-0.064],[10.187,-0.066],[10.215,-0.064],[10.273,-0.065],[10.302,-0.079],[10.321,-0.081],[10.350,-0.093],[10.379,-0.088],[10.437,-0.088],[10.456,-0.083],[10.523,-0.083],[10.552,-0.081],[10.610,-0.083],[10.648,-0.088],[10.715,-0.097],[10.773,-0.090]];
const rH_high_k35 = [[9.312,-0.045],[9.388,-0.042],[9.437,-0.040],[9.465,-0.046],[9.485,-0.045],[9.513,-0.055],[9.562,-0.056],[9.638,-0.055],[9.658,-0.049],[9.677,-0.043],[9.706,-0.051],[9.735,-0.063],[9.754,-0.075],[9.792,-0.076],[9.898,-0.075],[9.927,-0.085],[9.956,-0.084],[9.975,-0.088],[10.004,-0.095],[10.042,-0.105],[10.081,-0.108],[10.119,-0.110],[10.167,-0.085],[10.196,-0.085],[10.215,-0.093],[10.263,-0.093],[10.283,-0.113],[10.331,-0.115],[10.388,-0.116],[10.408,-0.122],[10.465,-0.122],[10.504,-0.123],[10.542,-0.127],[10.600,-0.139],[10.638,-0.118],[10.696,-0.115]];
const rH_high_k0 = [[9.023,-0.034],[9.042,-0.032],[9.071,-0.034],[9.100,-0.036],[9.158,-0.038],[9.215,-0.040],[9.235,-0.043],[9.302,-0.045],[9.340,-0.051],[9.388,-0.057],[9.427,-0.058],[9.465,-0.061],[9.504,-0.067],[9.542,-0.075],[9.581,-0.079],[9.619,-0.086],[9.658,-0.088],[9.735,-0.087],[9.773,-0.085],[9.812,-0.088],[9.850,-0.088],[9.888,-0.090],[9.927,-0.101],[10.004,-0.102],[10.042,-0.102],[10.081,-0.106],[10.119,-0.111],[10.196,-0.111],[10.273,-0.108],[10.312,-0.108],[10.388,-0.113],[10.427,-0.115],[10.504,-0.118],[10.581,-0.120],[10.658,-0.123],[10.735,-0.127],[10.821,-0.130]];

// Tick values and axis ranges
const X_MAJOR = [1e9, 1e10, 1e11];
const X_MINOR = [9e8, 2e9, 3e9, 4e9, 5e9, 6e9, 7e9, 8e9, 9e9, 2e10, 3e10, 4e10, 5e10, 6e10, 7e10, 8e10, 9e10];
const X_LOG_RANGE = [8.904, 11.175];
const Y_RANGES = [[-0.1, 0.3, 0.1], [-0.5, 1.0, 0.5], [-0.2, 0.2, 0.1]];

// Labels
const SERIES_KEYS = ['k60', 'k45', 'k35', 'k0'];
const COLORS = ['#7201a8', '#bd3786', '#ed7953', '#fccf25'];
const LEGEND_TEXT = {
  k60: '{n|0.6 \u2009≤\u2009 }{i|κ}{s|co,rot}{n| \u2009<\u2009 1}',
  k45: '{n|0.45 \u2009≤\u2009 }{i|κ}{s|co,rot}{n| \u2009<\u2009 0.6}',
  k35: '{n|0.35 \u2009≤\u2009 }{i|κ}{s|co,rot}{n| \u2009<\u2009 0.45}',
  k0:  '{n|0 \u2009≤\u2009 }{i|κ}{s|co,rot}{n| \u2009<\u2009 0.35}'
};
const TITLES = [
  '{i|M}{s|200}{n|  <  10}{p|13}{n| M}{s|⊙}',
  '{n|10}{p|13}{n|  ≤  }{i|M}{s|200}{n|/M}{s|⊙}{n|  <  10}{p|14}',
  '{i|M}{s|200}{n|  ≥  10}{p|14}{n| M}{s|⊙}'
];
const Y_NAMES = [
  '{n|(}{i|g}{n|  −  }{i|r}{n|)}{s|outer}{n|  −  (}{i|g}{n|  −  }{i|r}{n|)}{s|inner}',
  '{n|(}{i|u}{n|  −  }{i|r}{n|)}{s|outer}{n|  −  (}{i|u}{n|  −  }{i|r}{n|)}{s|inner}',
  '{n|(}{i|r}{n|  −  }{i|H}{n|)}{s|outer}{n|  −  (}{i|r}{n|  −  }{i|H}{n|)}{s|inner}'
];
const X_NAME = '{n|Stellar mass }{i|M}{s|∗}{n| [M}{s|⊙}{n|]}';

const PANEL_DATA = [
  [gr_low_k60, gr_low_k45, gr_low_k35, gr_low_k0],
  [gr_mid_k60, gr_mid_k45, gr_mid_k35, gr_mid_k0],
  [gr_high_k60, gr_high_k45, gr_high_k35, gr_high_k0],
  [ur_low_k60, ur_low_k45, ur_low_k35, ur_low_k0],
  [ur_mid_k60, ur_mid_k45, ur_mid_k35, ur_mid_k0],
  [ur_high_k60, ur_high_k45, ur_high_k35, ur_high_k0],
  [rH_low_k60, rH_low_k45, rH_low_k35, rH_low_k0],
  [rH_mid_k60, rH_mid_k45, rH_mid_k35, rH_mid_k0],
  [rH_high_k60, rH_high_k45, rH_high_k35, rH_high_k0]
];

// ---------- LAYOUT ----------
const FONT = '"Liberation Serif", "DejaVu Serif", serif';
function richSet(size, lh, lhs) {
  const base = {fontFamily: FONT, fontSize: size, color: '#000', lineHeight: lh, fontWeight: 'normal'};
  const small = {fontFamily: FONT, fontSize: Math.round(size * 0.7), color: '#000', lineHeight: lhs, fontWeight: 'normal'};
  return {
    n: Object.assign({}, base),
    i: Object.assign({}, base, {fontStyle: 'italic'}),
    s: Object.assign({}, small, {verticalAlign: 'bottom'}),
    p: Object.assign({}, small, {verticalAlign: 'top'})
  };
}
const RICH_TICK = richSet(22, 26, 14);
const RICH_NAME = richSet(25, 30, 16);
const RICH_TITLE = richSet(26, 30, 16);
const RICH_LEG = richSet(21, 24, 13);

const ROW_TOP = [39.3, 491.7, 944.3];
const ROW_COLS = [
  [[104, 394.3], [519.3, 394.7], [934.3, 394.7]],
  [[116.7, 390], [527.3, 389.4], [937.3, 391.7]],
  [[104, 394.3], [519.3, 394.7], [934.3, 394.7]]
];
const LEGEND_POS = [[235, 48], [243, 501], [236, 955]];

const XMIN = Math.pow(10, X_LOG_RANGE[0]);
const XMAX = Math.pow(10, X_LOG_RANGE[1]);
const fmtX = v => '{n|10}{p|' + Math.round(Math.log10(v)) + '}';
const fmtY = v => (v < -1e-9 ? '−' : '') + Math.abs(v).toFixed(1);

const grids = [], xAxes = [], yAxes = [], series = [], titles = [], legends = [];
const BLACK = {color: '#000', width: 1};

for (let r = 0; r < 3; r++) {
  for (let c = 0; c < 3; c++) {
    const g = r * 3 + c;
    const [left, width] = ROW_COLS[r][c];
    const top = ROW_TOP[r];
    grids.push({left: left, top: top, width: width, height: 320, containLabel: false, outerBoundsMode: 'none'});
    const mkX = (pos, major, labels) => ({
      type: 'log', logBase: 10, gridIndex: g, position: pos, min: XMIN, max: XMAX,
      axisLine: {show: true, onZero: false, lineStyle: BLACK},
      axisTick: {show: true, inside: true, length: major ? 5 : 2.8, customValues: major ? X_MAJOR : X_MINOR, lineStyle: BLACK},
      minorTick: {show: false},
      axisLabel: labels ? {show: true, customValues: X_MAJOR, margin: 6, formatter: fmtX, rich: RICH_TICK} : {show: false},
      splitLine: {show: false}, minorSplitLine: {show: false},
      name: labels ? X_NAME : '', nameLocation: 'middle', nameGap: 35,
      nameTextStyle: {rich: RICH_NAME}, silent: true
    });
    xAxes.push(mkX('bottom', true, true), mkX('bottom', false, false), mkX('top', true, false), mkX('top', false, false));
    const yr = Y_RANGES[r];
    const mkY = (pos, labels) => ({
      type: 'value', gridIndex: g, position: pos, min: yr[0], max: yr[1], interval: yr[2],
      axisLine: {show: true, onZero: false, lineStyle: BLACK},
      axisTick: {show: true, inside: true, length: 5, lineStyle: BLACK},
      minorTick: {show: true, splitNumber: 5, length: 2.8, lineStyle: BLACK},
      axisLabel: labels ? {show: true, margin: 10, formatter: fmtY, fontFamily: FONT, fontSize: 23, color: '#000'} : {show: false},
      splitLine: {show: false}, minorSplitLine: {show: false},
      name: labels ? Y_NAMES[r] : '', nameLocation: 'middle', nameGap: 68, nameRotate: 90,
      nameTextStyle: {rich: RICH_NAME}, silent: true
    });
    yAxes.push(mkY('left', c === 0), mkY('right', false));

    PANEL_DATA[g].forEach((arr, k) => {
      const s = {
        type: 'line', name: SERIES_KEYS[k], xAxisIndex: 4 * g, yAxisIndex: 2 * g,
        data: arr.map(p => [Math.pow(10, p[0]), p[1]]),
        showSymbol: false, symbol: 'none', color: COLORS[k],
        lineStyle: {width: 2.4, color: COLORS[k]}, itemStyle: {color: COLORS[k]},
        animation: false, silent: true, clip: true, z: 2
      };
      if (k === 3) {
        s.markLine = {
          silent: true, symbol: ['none', 'none'], animation: false,
          label: {show: false},
          lineStyle: {type: [10, 4.3], color: '#808080', width: 2.4},
          data: [{yAxis: 0}]
        };
      }
      series.push(s);
    });

    titles.push({
      text: TITLES[c], left: left + width / 2, top: top - 36, textAlign: 'center', padding: 0,
      textStyle: {rich: RICH_TITLE, fontWeight: 'normal'}
    });
  }
  legends.push({
    left: LEGEND_POS[r][0], top: LEGEND_POS[r][1], orient: 'vertical',
    data: SERIES_KEYS, icon: 'rect', itemWidth: 44, itemHeight: 2.6, itemGap: 6.7,
    padding: [6, 10, 5, 8], borderColor: '#cccccc', borderWidth: 1, borderRadius: 4,
    backgroundColor: 'rgba(255,255,255,0.8)', selectedMode: false,
    formatter: name => LEGEND_TEXT[name],
    textStyle: {rich: RICH_LEG, padding: [0, 0, 0, 10]}
  });
}

const chart = echarts.init(document.getElementById('c'), null, {renderer: 'canvas'});
chart.setOption({
  animation: false, backgroundColor: '#fff',
  title: titles, legend: legends, grid: grids, xAxis: xAxes, yAxis: yAxes, series: series
});
</script></body></html>
